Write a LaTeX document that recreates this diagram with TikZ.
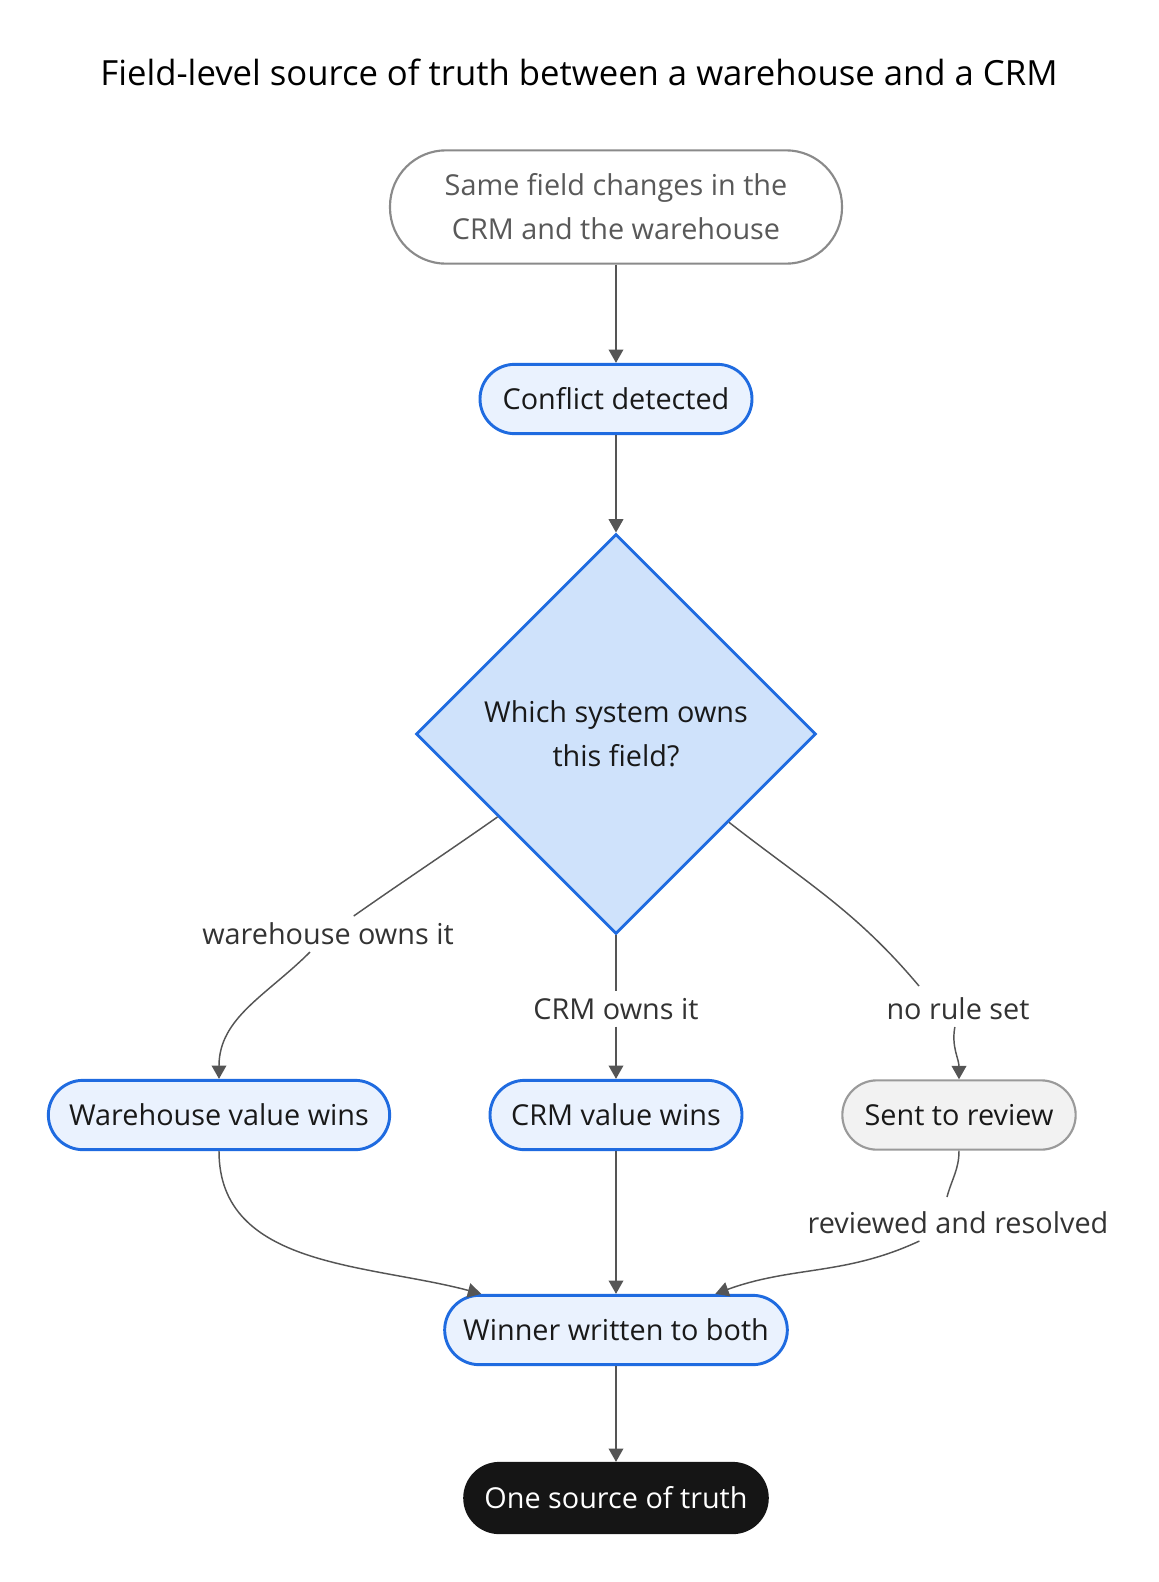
\documentclass[tikz,border=0pt]{standalone}
\usepackage{fontspec}
\setmainfont{Open Sans}
\usetikzlibrary{shapes.geometric,arrows.meta}
\definecolor{edgegray}{HTML}{555555}
\definecolor{bluedraw}{HTML}{1F6BE0}
\definecolor{bluefill}{HTML}{EAF2FE}
\definecolor{diafill}{HTML}{CFE2FB}
\definecolor{startdraw}{HTML}{8A8A8A}
\definecolor{revdraw}{HTML}{9A9A9A}
\definecolor{revfill}{HTML}{F2F2F2}
\definecolor{endfill}{HTML}{151515}
\tikzset{
  box/.style={rectangle, rounded corners=26pt, minimum height=52pt, draw=bluedraw, line width=2.2pt, fill=bluefill, text=black!90, font=\fontsize{21.6}{33}\selectfont},
  lbl/.style={fill=white, inner sep=5pt, text=black!80, font=\fontsize{21.6}{24}\selectfont},
  line/.style={draw=edgegray, line width=1.1pt},
  flow/.style={line, -{Triangle[length=10pt,width=11pt]}, color=edgegray}
}
\begin{document}
\begin{tikzpicture}[x=0.75pt,y=0.75pt]
        \useasboundingbox (0,0) rectangle (1158,-1582);
        \node (title) at (579,-72) {\fontsize{26}{30}\selectfont Field-level source of truth between a warehouse and a CRM};
        \begin{scope}[every node/.style={box}]
        \node[draw=startdraw, line width=1.6pt, fill=white, text=black!65, rounded corners=42pt, minimum width=339pt, minimum height=85pt, align=center] (start) at (616,-207) {Same field changes in the\\CRM and the warehouse};
        \node[minimum width=204pt] (conf) at (616,-399) {Conflict detected};
        \node[diamond, rounded corners=0pt, fill=diafill, minimum width=300pt, minimum height=300pt, inner sep=0pt, align=center] (dia) at (616,-734) {Which system owns\\this field?};
        \node[minimum width=256pt] (wh) at (219,-1115) {Warehouse value wins};
        \node[minimum width=189pt] (crm) at (616,-1115) {CRM value wins};
        \node[draw=revdraw, line width=1.6pt, fill=revfill, minimum width=175pt] (rev) at (959,-1115) {Sent to review};
        \node[minimum width=257pt] (win) at (616,-1330) {Winner written to both};
        \node[draw=endfill, fill=endfill, text=white, minimum width=227pt] (one) at (616,-1498) {One source of truth};
        \end{scope}
        \node[lbl] (wl) at (328,-934) {warehouse owns it};
        \node[lbl] (cl) at (616,-1009) {CRM owns it};
        \node[lbl] (nl) at (958,-1009) {no rule set};
        \node[lbl] (rl) at (958,-1223) {reviewed and resolved};
        \coordinate (nlin) at (919,-986);
        \coordinate (rlin) at (947,-1197);
        \draw[flow] (start) -- (conf);
        \draw[flow] (conf) -- (dia);
        \draw[line] (dia.215) to[out=215,in=35] (wl);
        \draw[flow] (wl) to[out=225,in=90] (wh);
        \draw[line] (dia) -- (cl);
        \draw[flow] (cl) -- (crm);
        \draw[line] (dia.322) to[out=-38,in=130] (nlin);
        \draw[flow] (nl) to[out=-100,in=90] (rev);
        \draw[flow] (wh) to[out=-90,in=165] (win);
        \draw[flow] (crm) -- (win);
        \draw[line] (rev) to[out=-90,in=75] (rlin);
        \draw[flow] (rl) to[out=205,in=20] (win);
        \draw[flow] (win) -- (one);
    \end{tikzpicture}
\end{document}
